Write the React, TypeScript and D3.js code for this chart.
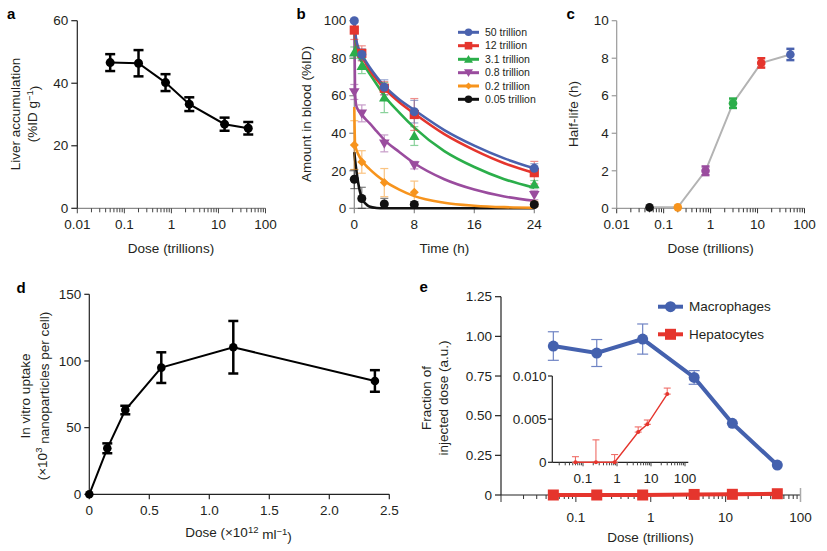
import React from 'react';
import * as d3 from 'd3';

const FONT = "'Liberation Sans', Arial, Helvetica, sans-serif";
const TXT = '#231f20';

// ---------- Panel a ----------
const aDose = [0.05, 0.2, 0.75, 2.4, 13.5, 43];
const aLiver = [46.6, 46.4, 40.2, 33.3, 26.9, 25.6];
const aErr = [2.7, 4.2, 2.7, 2.2, 2.1, 2.0];
const aYTicks = [0, 20, 40, 60];

// ---------- Panel b ----------
const bSeriesNames = ['50 trillion', '12 trillion', '3.1 trillion', '0.8 trillion', '0.2 trillion', '0.05 trillion'];
const bColors = ['#4a62ae', '#e5352d', '#2bae4a', '#9a4c9e', '#f7941d', '#111111'];
const bShapes = ['circle', 'square', 'triUp', 'triDown', 'diamond', 'circle'];
const bTimes = [0, 1, 4, 8, 24];
const bBlue = [100, 82, 64.5, 51.5, 21.3];
const bRed = [95, 82.6, 64, 50, 19];
const bGreen = [83, 75.8, 59, 38.5, 12.8];
const bPurple = [62, 50.6, 34.6, 23, 7.1];
const bOrange = [33.7, 24.7, 13.7, 8.5, 2.3];
const bBlack = [15.5, 5.2, 2.3, 2.0, 2.0];
const bBlueErr = [1, 3, 4, 6, 2.5];
const bRedErr = [5, 4, 3.5, 8.5, 6];
const bGreenErr = [3, 4, 8, 5, 2];
const bPurpleErr = [4, 4.5, 4.5, 2, 2.5];
const bOrangeErr = [13, 6, 7.5, 6, 1.5];
const bBlackErr = [5, 6, 3, 1.5, 1];
// fitted curves
const bCurveT = [0, 0.1, 0.25, 0.5, 1, 1.5, 2, 3, 4, 6, 8, 12, 16, 20, 24];
const bBlueFit = [100, 95, 90, 86, 81.7, 78.5, 75.5, 70, 65.2, 58, 52.4, 41.7, 33.4, 26.6, 21.3];
const bRedFit = [100, 94, 89, 85, 81, 77.5, 74, 68.5, 64, 56.5, 50.5, 39.5, 31, 24, 18.8];
const bGreenFit = [97, 91, 86, 82, 78, 75, 72, 66, 60, 51, 43, 30.5, 22, 15.5, 11];
const bPurpleFit = [100, 62, 55, 52.5, 50, 47.5, 45.5, 41, 36.5, 30, 24, 15.5, 10, 6.3, 4];
const bOrangeFit = [54, 34, 31.5, 29, 25.5, 23, 21, 17.5, 14.5, 10, 6.5, 3, 1.4, 0.6, 0.3];
const bBlackFit = [30, 26, 21, 14, 5.5, 2.5, 1, 0.2, 0, 0, 0, 0, 0, 0, 0];
const bXTicks = [0, 8, 16, 24];
const bYTicks = [0, 20, 40, 60, 80, 100];

// ---------- Panel c ----------
const cDose = [0.05, 0.2, 0.78, 3.0, 12, 50];
const cHalf = [0.05, 0.05, 2.0, 5.6, 7.75, 8.2];
const cErr = [0, 0, 0.23, 0.25, 0.25, 0.3];
const cColors = ['#111111', '#f7941d', '#9a4c9e', '#2bae4a', '#e5352d', '#4a62ae'];
const cYTicks = [0, 2, 4, 6, 8, 10];

// ---------- Panel d ----------
const dDose = [0, 0.15, 0.3, 0.6, 1.2, 2.38];
const dUptake = [0, 34.5, 63.2, 95, 110.3, 85];
const dErr = [0, 3.7, 3.2, 11.5, 19.7, 8.1];
const dXTicks = [0, 0.5, 1.0, 1.5, 2.0, 2.5];
const dYTicks = [0, 50, 100, 150];

// ---------- Panel e ----------
const eDose = [0.05, 0.19, 0.78, 3.8, 12.3, 49];
const eMacro = [0.939, 0.895, 0.983, 0.741, 0.452, 0.189];
const eMacroErr = [0.09, 0.085, 0.095, 0.043, 0, 0];
const eHep = [0, 0, 0, 0.0035, 0.0044, 0.008];
const eYTicks = [0, 0.25, 0.5, 0.75, 1.0, 1.25];
const insetDose = [0.06, 0.24, 0.85, 4.2, 7.8, 30];
const insetHep = [0, 0, 0, 0.0035, 0.0044, 0.0079];
const insetErrUp = [0.00065, 0.0026, 0.0009, 0.0006, 0.0005, 0.0007];
const insetYTicks = [0, 0.005, 0.01];

const isPow10 = (v: number) => Math.abs(Math.log10(v) - Math.round(Math.log10(v))) < 1e-6;
const fmtLog = (v: number) => (v >= 1 ? String(Math.round(v)) : String(+v.toPrecision(1)));

function Marker({ shape, x, y, color, size = 4.5 }: any) {
  if (shape === 'circle') return <circle cx={x} cy={y} r={size} fill={color} />;
  if (shape === 'square') return <rect x={x - size} y={y - size} width={size * 2} height={size * 2} fill={color} />;
  if (shape === 'triUp') {
    const p = d3.symbol().type(d3.symbolTriangle).size(size * size * 2.4)();
    return <path d={p || ''} transform={`translate(${x},${y + 0.8})`} fill={color} />;
  }
  if (shape === 'triDown') {
    const p = d3.symbol().type(d3.symbolTriangle).size(size * size * 2.4)();
    return <path d={p || ''} transform={`translate(${x},${y - 0.8}) rotate(180)`} fill={color} />;
  }
  const p = d3.symbol().type(d3.symbolSquare).size(size * size * 2)();
  return <path d={p || ''} transform={`translate(${x},${y}) rotate(45)`} fill={color} />;
}

function ErrBar({ x, y1, y2, cap, color, width, opacity = 1 }: any) {
  return (
    <g stroke={color} strokeWidth={width} opacity={opacity}>
      <line x1={x} x2={x} y1={y1} y2={y2} />
      <line x1={x - cap / 2} x2={x + cap / 2} y1={y1} y2={y1} />
      <line x1={x - cap / 2} x2={x + cap / 2} y1={y2} y2={y2} />
    </g>
  );
}

function YAxis({ scale, x, ticks, fmt, color = '#222', tickLen = 5, fs = 13.5, gap = 3 }: any) {
  const [r0, r1] = scale.range();
  return (
    <g>
      <line x1={x} x2={x} y1={r0} y2={r1} stroke={color} strokeWidth={1.2} />
      {ticks.map((t: number, i: number) => (
        <g key={i}>
          <line x1={x - tickLen} x2={x} y1={scale(t)} y2={scale(t)} stroke={color} strokeWidth={1.2} />
          <text x={x - tickLen - gap} y={scale(t)} dy="0.35em" textAnchor="end" fontSize={fs} fill={TXT}>
            {fmt ? fmt(t) : String(t)}
          </text>
        </g>
      ))}
    </g>
  );
}

function LogXAxis({ scale, y, labels, lineColor = '#888', tickColor = '#333', majorLen = 5, minorLen = 4, fs = 13.5, labelDy = 21, x0, x1 }: any) {
  const [d0, d1] = scale.domain();
  const ticks: number[] = scale.ticks().filter((t: number) => t >= d0 * 0.999 && t <= d1 * 1.001);
  const r = scale.range();
  return (
    <g>
      <line x1={x0 ?? r[0]} x2={x1 ?? r[1]} y1={y} y2={y} stroke={lineColor} strokeWidth={1.2} />
      {ticks.map((t, i) => (
        <line key={i} x1={scale(t)} x2={scale(t)} y1={y} y2={y + (isPow10(t) ? majorLen : minorLen)} stroke={tickColor} strokeWidth={1} />
      ))}
      {labels.map((t: number, i: number) => (
        <text key={i} x={scale(t)} y={y + labelDy} textAnchor="middle" fontSize={fs} fill={TXT}>
          {fmtLog(t)}
        </text>
      ))}
    </g>
  );
}

function LinXAxis({ scale, y, ticks, fmt, lineColor = '#222', tickLen = 5, fs = 13.5, labelDy = 21, x1 }: any) {
  const r = scale.range();
  return (
    <g>
      <line x1={r[0]} x2={x1 ?? r[1]} y1={y} y2={y} stroke={lineColor} strokeWidth={1.2} />
      {ticks.map((t: number, i: number) => (
        <g key={i}>
          <line x1={scale(t)} x2={scale(t)} y1={y} y2={y + tickLen} stroke={lineColor} strokeWidth={1.2} />
          <text x={scale(t)} y={y + labelDy} textAnchor="middle" fontSize={fs} fill={TXT}>
            {fmt ? fmt(t) : String(t)}
          </text>
        </g>
      ))}
    </g>
  );
}

function RotLabel({ cx, cy, children, fs = 13.5 }: any) {
  return (
    <text transform={`translate(${cx},${cy}) rotate(-90)`} dy="0.35em" textAnchor="middle" fontSize={fs} fill={TXT}>
      {children}
    </text>
  );
}

function Letter({ x, y, t }: any) {
  return (
    <text x={x} y={y} fontSize={15} fontWeight="bold" fill="#000">
      {t}
    </text>
  );
}

export default function App() {
  // scales
  const ax = d3.scaleLog().domain([0.01, 100]).range([77.3, 265.5]);
  const ay = d3.scaleLinear().domain([0, 60]).range([208.3, 20.7]);
  const bx = d3.scaleLinear().domain([0, 24]).range([354.3, 534.3]);
  const by = d3.scaleLinear().domain([0, 100]).range([208.3, 20.7]);
  const cx = d3.scaleLog().domain([0.01, 100]).range([616.7, 804.5]);
  const cy = d3.scaleLinear().domain([0, 10]).range([208.3, 20.7]);
  const dx = d3.scaleLinear().domain([0, 2.5]).range([89.3, 389.3]);
  const dy = d3.scaleLinear().domain([0, 150]).range([494.3, 294.3]);
  const ex = d3.scaleLog().domain([0.01, 100]).range([501, 800.5]);
  const ey = d3.scaleLinear().domain([0, 1.25]).range([495, 296.7]);
  const ix = d3.scaleLog().domain([0.0125, 125]).range([552.3, 688.3]);
  const iy = d3.scaleLinear().domain([0, 0.01]).range([462.3, 376]);

  const aLine = d3.line<number>().x((_, i) => ax(aDose[i])).y((v) => ay(v))(aLiver) || '';
  const cLine = d3.line<number>().x((_, i) => cx(cDose[i])).y((v) => cy(v))(cHalf) || '';
  const dLine = d3.line<number>().x((_, i) => dx(dDose[i])).y((v) => dy(v))(dUptake) || '';
  const eMacroLine = d3.line<number>().x((_, i) => ex(eDose[i])).y((v) => ey(v))(eMacro) || '';
  const eHepLine = d3.line<number>().x((_, i) => ex(eDose[i])).y((v) => ey(v))(eHep) || '';
  const iLine = d3.line<number>().x((_, i) => ix(insetDose[i])).y((v) => iy(v))(insetHep) || '';

  const bVals = [bBlue, bRed, bGreen, bPurple, bOrange, bBlack];
  const bErrs = [bBlueErr, bRedErr, bGreenErr, bPurpleErr, bOrangeErr, bBlackErr];
  const bFits = [bBlueFit, bRedFit, bGreenFit, bPurpleFit, bOrangeFit, bBlackFit];
  const fitGen = d3
    .line<number>()
    .x((_, i) => bx(bCurveT[i]))
    .y((v) => by(v))
    .curve(d3.curveMonotoneX);

  const legendRows = [32.3, 45.7, 59.3, 72.7, 86, 99.3];
  const markerOrder = [1, 2, 3, 4, 5, 0];

  return (
    <svg width={827} height={551} style={{ position: 'absolute', left: 0, top: 0, background: '#fff' }} fontFamily={FONT}>
      <rect width={827} height={551} fill="#fff" />

      {/* ---------- a ---------- */}
      <Letter x={7} y={18.5} t="a" />
      <LogXAxis scale={ax} y={208.3} labels={[0.01, 0.1, 1, 10, 100]} lineColor="#8a8a8a" tickColor="#444" labelDy={21} />
      <YAxis scale={ay} x={77.3} ticks={aYTicks} color="#222" tickLen={6} />
      <text x={171} y={253} textAnchor="middle" fontSize={13.5} fill={TXT}>Dose (trillions)</text>
      <RotLabel cx={15.5} cy={114}>Liver accumulation</RotLabel>
      <RotLabel cx={32.5} cy={114}>
        (%ID g<tspan dy="-0.45em" fontSize={9.5}>−1</tspan><tspan dy="0.45em">)</tspan>
      </RotLabel>
      <path d={aLine} fill="none" stroke="#000" strokeWidth={2} />
      {aDose.map((d, i) => (
        <ErrBar key={i} x={ax(d)} y1={ay(aLiver[i] + aErr[i])} y2={ay(aLiver[i] - aErr[i])} cap={10} color="#000" width={2.5} />
      ))}
      {aDose.map((d, i) => (
        <circle key={i} cx={ax(d)} cy={ay(aLiver[i])} r={4.5} fill="#000" />
      ))}

      {/* ---------- b ---------- */}
      <Letter x={296.5} y={18.5} t="b" />
      <LinXAxis scale={bx} y={208.3} ticks={bXTicks} lineColor="#8a8a8a" x1={536} />
      <YAxis scale={by} x={354.3} ticks={bYTicks} color="#8a8a8a" tickLen={5} />
      <text x={444.3} y={253} textAnchor="middle" fontSize={13.5} fill={TXT}>Time (h)</text>
      <RotLabel cx={306} cy={114}>Amount in blood (%ID)</RotLabel>
      {[5, 4, 3, 2, 1, 0].map((s) => (
        <path key={s} d={fitGen(bFits[s]) || ''} fill="none" stroke={bColors[s]} strokeWidth={2.6} />
      ))}
      {[5, 4, 3, 2, 1, 0].map((s) =>
        bTimes.map((t, i) => (
          <ErrBar key={`${s}-${i}`} x={bx(t)} y1={by(bVals[s][i] + bErrs[s][i])} y2={by(Math.max(0, bVals[s][i] - bErrs[s][i]))} cap={8} color={bColors[s]} width={1.2} opacity={0.55} />
        ))
      )}
      {markerOrder.map((s) =>
        bTimes.map((t, i) => (
          <Marker key={`${s}-${i}`} shape={bShapes[s]} x={bx(t)} y={by(bVals[s][i])} color={bColors[s]} size={s === 1 ? 4.6 : 4.5} />
        ))
      )}
      {bSeriesNames.map((n, s) => (
        <g key={s}>
          <line x1={458} x2={479} y1={legendRows[s]} y2={legendRows[s]} stroke={bColors[s]} strokeWidth={3} />
          <Marker shape={bShapes[s]} x={468.5} y={legendRows[s]} color={bColors[s]} size={s === 4 ? 3.5 : 3.8} />
          <text x={485} y={legendRows[s]} dy="0.35em" fontSize={10.5} fill={TXT}>{n}</text>
        </g>
      ))}

      {/* ---------- c ---------- */}
      <Letter x={566.5} y={18.5} t="c" />
      <LogXAxis scale={cx} y={208.3} labels={[0.01, 0.1, 1, 10, 100]} lineColor="#9a9a9a" tickColor="#333" labelDy={21} />
      <YAxis scale={cy} x={616.7} ticks={cYTicks} color="#9a9a9a" tickLen={5} />
      <text x={710.6} y={253} textAnchor="middle" fontSize={13.5} fill={TXT}>Dose (trillions)</text>
      <RotLabel cx={573.5} cy={114}>Half-life (h)</RotLabel>
      <path d={cLine} fill="none" stroke="#b3b3b3" strokeWidth={2} />
      {cDose.map((d, i) =>
        cErr[i] > 0 ? (
          <ErrBar key={i} x={cx(d)} y1={cy(cHalf[i] + cErr[i])} y2={cy(cHalf[i] - cErr[i])} cap={8} color={cColors[i]} width={2.5} />
        ) : null
      )}
      {cDose.map((d, i) => (
        <circle key={i} cx={cx(d)} cy={cy(cHalf[i])} r={4.3} fill={cColors[i]} />
      ))}

      {/* ---------- d ---------- */}
      <Letter x={16.5} y={292.5} t="d" />
      <LinXAxis scale={dx} y={494.3} ticks={dXTicks} fmt={(t: number) => (t === 0 ? '0' : t.toFixed(1))} lineColor="#222" labelDy={21} />
      <YAxis scale={dy} x={89.3} ticks={dYTicks} color="#222" tickLen={5} />
      <text x={238.5} y={537} textAnchor="middle" fontSize={13.5} fill={TXT}>
        Dose (×10<tspan dy="-0.45em" fontSize={9.5}>12</tspan>
        <tspan dy="0.45em"> ml</tspan>
        <tspan dy="-0.45em" fontSize={9.5}>−1</tspan>
        <tspan dy="0.45em">)</tspan>
      </text>
      <RotLabel cx={25} cy={396}>In vitro uptake</RotLabel>
      <RotLabel cx={42} cy={396}>
        (×10<tspan dy="-0.45em" fontSize={9.5}>3</tspan><tspan dy="0.45em"> nanoparticles per cell)</tspan>
      </RotLabel>
      <path d={dLine} fill="none" stroke="#000" strokeWidth={2} />
      {dDose.map((d, i) =>
        dErr[i] > 0 ? (
          <ErrBar key={i} x={dx(d)} y1={dy(dUptake[i] + dErr[i])} y2={dy(dUptake[i] - dErr[i])} cap={10} color="#000" width={2.5} />
        ) : null
      )}
      {dDose.map((d, i) => (
        <circle key={i} cx={dx(d)} cy={dy(dUptake[i])} r={4.3} fill="#000" />
      ))}

      {/* ---------- e ---------- */}
      <Letter x={419.5} y={291.5} t="e" />
      <LogXAxis scale={ex} y={495} labels={[0.1, 1, 10, 100]} lineColor="#222" tickColor="#333" majorLen={7} minorLen={4} labelDy={27} />
      <line x1={800.5} x2={800.5} y1={488} y2={502} stroke="#aaa" strokeWidth={1.5} />
      <YAxis scale={ey} x={501} ticks={eYTicks} fmt={(t: number) => (t === 0 ? '0' : t.toFixed(2))} color="#222" tickLen={6} />
      <text x={650.5} y={541.5} textAnchor="middle" fontSize={13.5} fill={TXT}>Dose (trillions)</text>
      <RotLabel cx={426.7} cy={398}>Fraction of</RotLabel>
      <RotLabel cx={443.5} cy={398}>injected dose (a.u.)</RotLabel>

      {/* inset */}
      <line x1={552.3} x2={552.3} y1={iy(0.01)} y2={iy(0)} stroke="#222" strokeWidth={1.2} />
      {insetYTicks.map((t, i) => (
        <g key={i}>
          <line x1={548} x2={552.3} y1={iy(t)} y2={iy(t)} stroke="#222" strokeWidth={1.2} />
          <text x={546.5} y={iy(t)} dy="0.35em" textAnchor="end" fontSize={13.5} fill={TXT}>
            {t === 0 ? '0' : t.toFixed(3)}
          </text>
        </g>
      ))}
      <LogXAxis scale={ix} y={462.3} labels={[0.1, 1, 10, 100]} lineColor="#222" tickColor="#444" majorLen={4} minorLen={3} labelDy={21} />
      {insetDose.map((d, i) => (
        <ErrBar key={i} x={ix(d)} y1={iy(insetHep[i] + insetErrUp[i])} y2={iy(insetHep[i])} cap={7} color="#ef6d67" width={1.1} />
      ))}
      <path d={iLine} fill="none" stroke="#e5352d" strokeWidth={1.4} />
      {insetDose.map((d, i) => (
        <circle key={i} cx={ix(d)} cy={iy(insetHep[i])} r={2} fill="#e5352d" />
      ))}

      {/* main e series */}
      {eDose.map((d, i) =>
        eMacroErr[i] > 0 ? (
          <ErrBar key={i} x={ex(d)} y1={ey(eMacro[i] + eMacroErr[i])} y2={ey(eMacro[i] - eMacroErr[i])} cap={11} color="#6f84c4" width={1.2} />
        ) : null
      )}
      <path d={eMacroLine} fill="none" stroke="#4461ae" strokeWidth={4} />
      {eDose.map((d, i) => (
        <circle key={i} cx={ex(d)} cy={ey(eMacro[i])} r={5.5} fill="#4461ae" />
      ))}
      <path d={eHepLine} fill="none" stroke="#e5352d" strokeWidth={4} />
      {eDose.map((d, i) => (
        <rect key={i} x={ex(d) - 5.5} y={ey(eHep[i]) - 5.5} width={11} height={11} fill="#e5352d" />
      ))}
      {/* legend e */}
      <line x1={658} x2={683} y1={306.7} y2={306.7} stroke="#4461ae" strokeWidth={4} />
      <circle cx={670.5} cy={306.7} r={5.5} fill="#4461ae" />
      <text x={689} y={306.7} dy="0.35em" fontSize={13.5} fill={TXT}>Macrophages</text>
      <line x1={658} x2={683} y1={334.3} y2={334.3} stroke="#e5352d" strokeWidth={4} />
      <rect x={665} y={328.8} width={11} height={11} fill="#e5352d" />
      <text x={689} y={334.3} dy="0.35em" fontSize={13.5} fill={TXT}>Hepatocytes</text>
    </svg>
  );
}
